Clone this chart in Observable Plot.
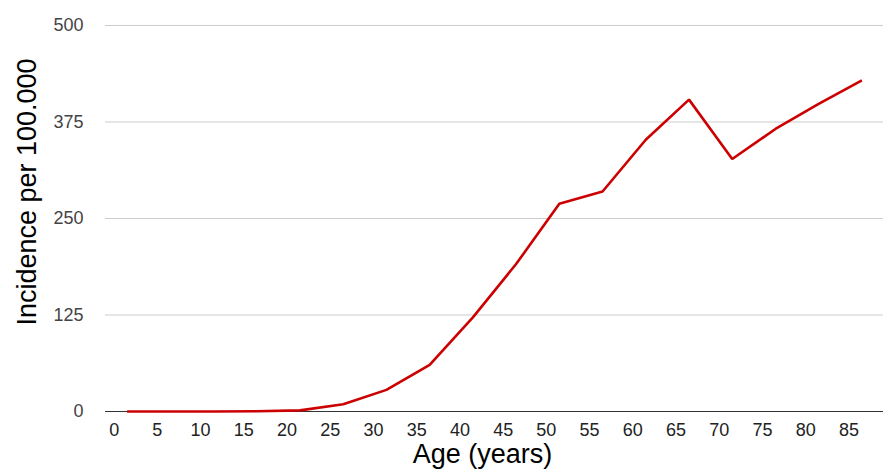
<!DOCTYPE html>
<html>
<head>
<meta charset="utf-8">
<script src="https://cdn.jsdelivr.net/npm/d3@7"></script>
<script src="https://cdn.jsdelivr.net/npm/@observablehq/plot@0.6"></script>
<style>
  html, body { margin: 0; padding: 0; background: #fff; }
  #chart svg { display: block; }
</style>
</head>
<body>
<div id="chart"></div>
<script>
const ages = [1.5, 6.5, 11.5, 16.5, 21.5, 26.5, 31.5, 36.5, 41.5, 46.5, 51.5, 56.5, 61.5, 66.5, 71.5, 76.5, 81.5, 86.5];
const incidence = [0, 0, 0, 0.3, 1.5, 9.5, 28, 60.5, 122, 191, 269, 285, 352, 404, 327, 366, 398.5, 429];
const xTicks = [0, 5, 10, 15, 20, 25, 30, 35, 40, 45, 50, 55, 60, 65, 70, 75, 80, 85];
const yTicks = [0, 125, 250, 375, 500];
const xTitle = "Age (years)";
const yTitle = "Incidence per 100.000";

const data = ages.map((a, i) => ({age: a, value: incidence[i]}));

const chart = Plot.plot({
  width: 889,
  height: 475,
  marginLeft: 105,
  marginRight: 6,
  marginTop: 25,
  marginBottom: 64,
  style: {fontFamily: "'Liberation Sans', Arial, sans-serif", background: "#fff"},
  x: {domain: [-1, 89], ticks: xTicks, label: null},
  y: {domain: [0, 500], ticks: yTicks, label: null},
  marks: [
    Plot.gridY(yTicks.filter(d => d !== 0), {stroke: "#cccccc", strokeOpacity: 1, strokeWidth: 1}),
    Plot.axisY(yTicks, {tickSize: 0, tickPadding: 22, fontSize: 18, fill: "#444", label: null}),
    Plot.axisX(xTicks, {tickSize: 0, tickPadding: 12, fontSize: 18, fill: "#222", label: null}),
    Plot.ruleY([0], {stroke: "#333", strokeWidth: 1.2}),
    Plot.line(data, {x: "age", y: "value", stroke: "#cc0000", strokeWidth: 2.6, strokeLinejoin: "miter", strokeLinecap: "butt"}),
    Plot.text([xTitle], {frameAnchor: "bottom", text: d => d, dy: 51, dx: -12, fontSize: 27, fill: "#000", textAnchor: "middle", lineAnchor: "bottom"}),
    Plot.text([yTitle], {frameAnchor: "left", text: d => d, dx: -70, dy: -26.5, rotate: -90, fontSize: 27, fill: "#000", textAnchor: "middle", lineAnchor: "bottom"})
  ]
});
document.getElementById("chart").appendChild(chart);
</script>
</body>
</html>
